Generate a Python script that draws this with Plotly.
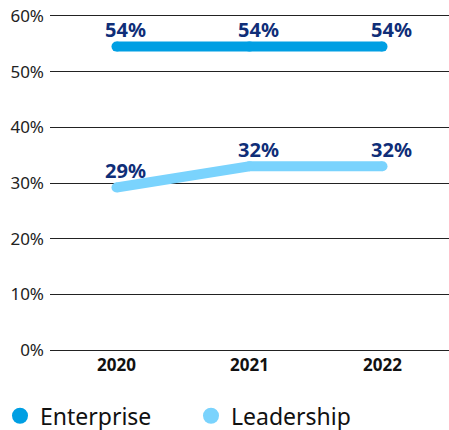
import plotly.graph_objects as go

years = ["2020", "2021", "2022"]
enterprise = [54.5, 54.5, 54.5]
leadership = [29.2, 33.0, 33.0]
enterprise_labels = ["54%", "54%", "54%"]
leadership_labels = ["29%", "32%", "32%"]
y_ticks = [0, 10, 20, 30, 40, 50, 60]
y_tick_text = ["0%", "10%", "20%", "30%", "40%", "50%", "60%"]

c_ent = "#009fe3"
c_lead = "#7ad3fd"
c_lab = "#0f2e78"
font = "Noto Sans"

fig = go.Figure()
for name, vals, col in [("Enterprise", enterprise, c_ent), ("Leadership", leadership, c_lead)]:
    fig.add_trace(go.Scatter(x=years, y=vals, mode="lines+markers",
                             line=dict(color=col, width=10),
                             marker=dict(color=col, size=10, line=dict(width=0)),
                             showlegend=False, hoverinfo="skip"))
for name, col in [("Enterprise", c_ent), ("Leadership", c_lead)]:
    fig.add_trace(go.Scatter(x=[None], y=[None], mode="markers", name=name,
                             marker=dict(color=col, size=18)))

for vals, labs in [(enterprise, enterprise_labels), (leadership, leadership_labels)]:
    for i, (y, t) in enumerate(zip(vals, labs)):
        fig.add_annotation(x=i, y=y, xref="x", yref="y", text="<b>%s</b>" % t, showarrow=False,
                           yshift=17, xshift=9,
                           font=dict(family=font, size=20, color=c_lab))

fig.update_layout(
    width=449, height=430,
    margin=dict(l=50, r=0, t=16, b=80),
    paper_bgcolor="white", plot_bgcolor="white",
    font=dict(family=font, size=16, color="#222"),
    xaxis=dict(type="category", range=[-0.5, 2.5], showgrid=False, zeroline=False,
               showline=True, mirror=True, linecolor="#222", linewidth=1,
               ticks="", automargin=False,
               tickfont=dict(family=font, size=17, color="#111", weight="bold")),
    yaxis=dict(range=[0, 60], tickvals=y_ticks, ticktext=y_tick_text, showgrid=True,
               gridcolor="#222", gridwidth=1, zeroline=False, showline=False, automargin=False,
               ticks="", ticklabelstandoff=5, tickfont=dict(family=font, size=17, color="#222")),
    legend=dict(orientation="h", xref="container", yref="container", x=0.0, y=0.033,
                xanchor="left", yanchor="middle", font=dict(family=font, size=23, color="#111"),
                itemwidth=30, tracegroupgap=0, entrywidth=146),
)
fig.write_html("out.html", config={"displayModeBar": False},
               post_script="document.body.style.margin='0';")
